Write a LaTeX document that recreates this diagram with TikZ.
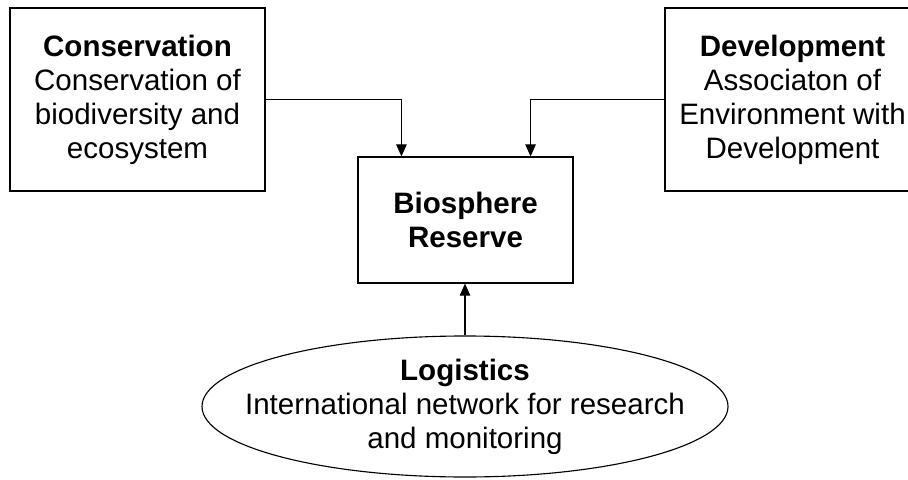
\documentclass[tikz,border=0pt]{standalone}
\usepackage{fontspec}
\setmainfont{Liberation Sans}
\usetikzlibrary{shapes.geometric, arrows.meta, positioning, calc}
\tikzset{
	goalbox/.style ={rectangle, draw=black, line width=0.8pt, minimum width=6.375cm, minimum height=4.575cm, align=center, inner sep=2pt},
	reserve/.style ={rectangle, draw=black, line width=0.8pt, minimum width=5.375cm, minimum height=3.15cm, align=center},
	support/.style ={ellipse, draw=black, line width=0.8pt, minimum width=13.15cm, minimum height=3.525cm, align=center, inner xsep=-0.85cm, inner ysep=0pt},
	feed/.style    ={-{Triangle[length=3mm, width=2.6mm]}, line width=0.8pt},
}

\begin{document}
\begin{tikzpicture}[font=\fontsize{21}{24.2}\selectfont]
	\useasboundingbox (0,0) rectangle (22.7,11.975);
	% three functions
	\node[goalbox] (cons) at (3.4375,9.4875) {\textbf{Conservation}\\Conservation of\\biodiversity and\\ecosystem};
	\node[goalbox] (devel) at (19.8125,9.4875) {\textbf{Development}\\Associaton of\\Environment with\\Development};
	\node[support] (logi) at (11.625,1.8125) {\textbf{Logistics}\\International network for research\\and monitoring};
	% centre
	\node[reserve] (bio) at (11.6375,6.475) {\textbf{Biosphere}\\\textbf{Reserve}};
	% links
	\draw[feed] (cons.east) -| ([xshift=1.1cm]bio.north west);
	\draw[feed] (devel.west) -| ([xshift=-1.075cm]bio.north east);
	\draw[feed] (logi.north) -- (logi.north |- bio.south);
\end{tikzpicture}
\end{document}
